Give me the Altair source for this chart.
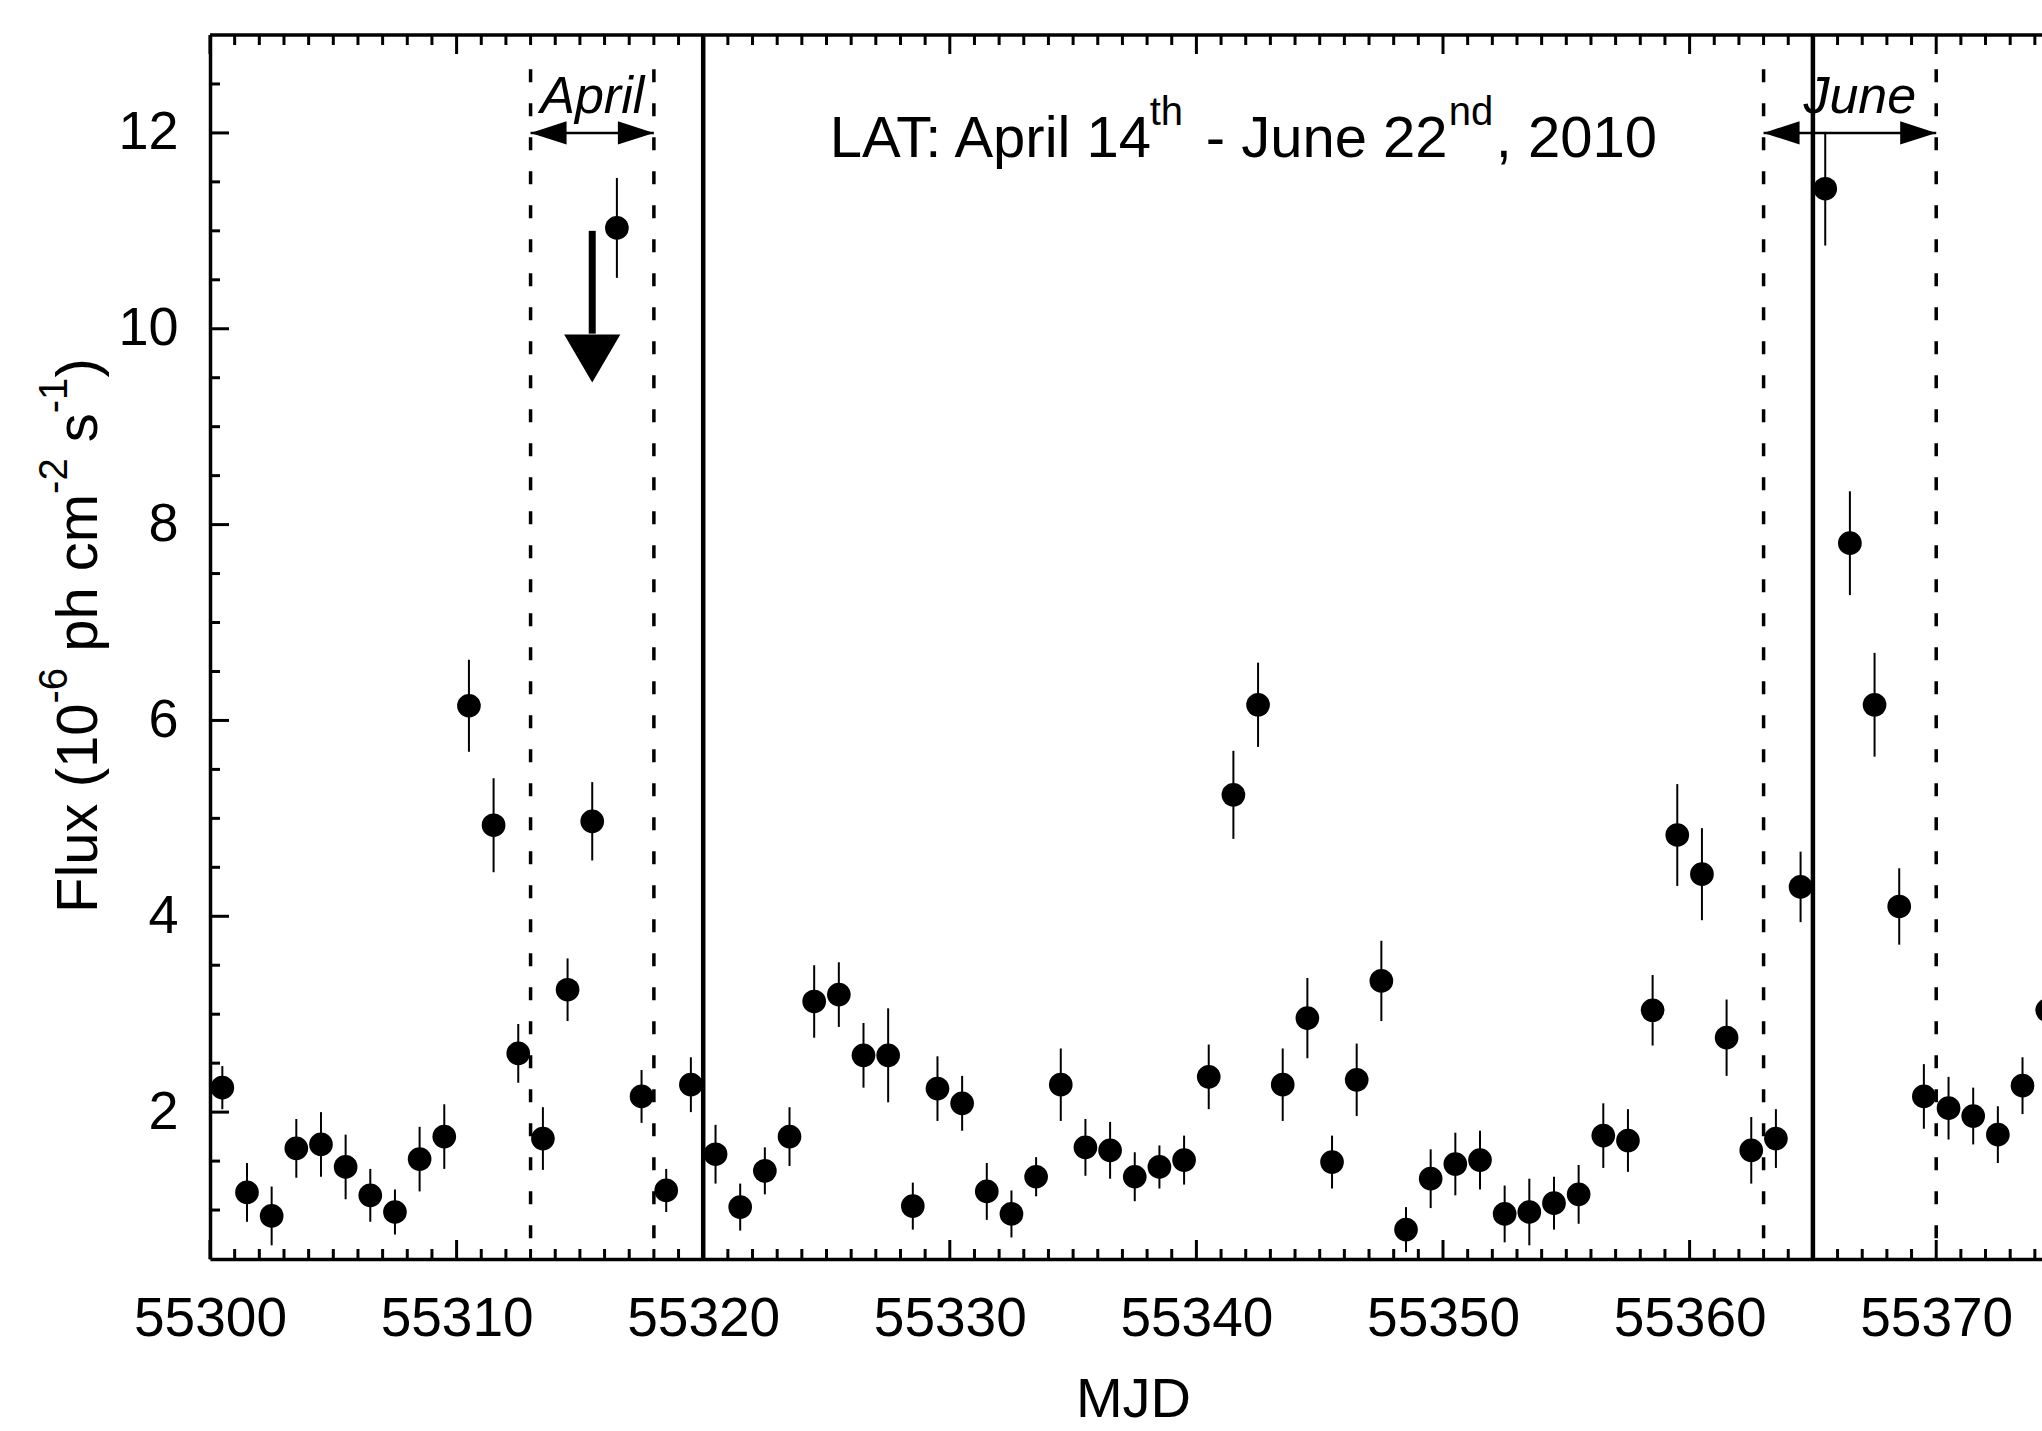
import altair as alt
import pandas as pd

FONT = "Liberation Sans"

# ---------------- data ----------------
mjd = [55300.5, 55301.5, 55302.5, 55303.5, 55304.5, 55305.5, 55306.5, 55307.5, 55308.5, 55309.5,
       55310.5, 55311.5, 55312.5, 55313.5, 55314.5, 55315.5, 55316.5, 55317.5, 55318.5, 55319.5,
       55320.5, 55321.5, 55322.5, 55323.5, 55324.5, 55325.5, 55326.5, 55327.5, 55328.5, 55329.5,
       55330.5, 55331.5, 55332.5, 55333.5, 55334.5, 55335.5, 55336.5, 55337.5, 55338.5, 55339.5,
       55340.5, 55341.5, 55342.5, 55343.5, 55344.5, 55345.5, 55346.5, 55347.5, 55348.5, 55349.5,
       55350.5, 55351.5, 55352.5, 55353.5, 55354.5, 55355.5, 55356.5, 55357.5, 55358.5, 55359.5,
       55360.5, 55361.5, 55362.5, 55363.5, 55364.5, 55365.5, 55366.5, 55367.5, 55368.5, 55369.5,
       55370.5, 55371.5, 55372.5, 55373.5, 55374.5]
flux = [2.25, 1.18, 0.94, 1.63, 1.67, 1.44, 1.15, 0.98, 1.52, 1.75,
        6.15, 4.93, 2.60, 1.73, 3.25, 4.97, 11.03, 2.16, 1.20, 2.28,
        1.57, 1.03, 1.40, 1.75, 3.13, 3.20, 2.58, 2.58, 1.04, 2.24,
        2.09, 1.19, 0.96, 1.34, 2.28, 1.64, 1.61, 1.34, 1.44, 1.51,
        2.36, 5.24, 6.16, 2.28, 2.96, 1.49, 2.33, 3.34, 0.80, 1.32,
        1.47, 1.51, 0.96, 0.98, 1.07, 1.16, 1.76, 1.71, 3.04, 4.83,
        4.43, 2.76, 1.61, 1.73, 4.30, 11.43, 7.81, 6.16, 4.10, 2.16,
        2.04, 1.96, 1.77, 2.27, 3.04]
flux_err = [0.22, 0.30, 0.30, 0.30, 0.33, 0.33, 0.27, 0.23, 0.33, 0.33,
            0.47, 0.48, 0.30, 0.32, 0.32, 0.40, 0.51, 0.27, 0.22, 0.28,
            0.30, 0.24, 0.24, 0.30, 0.37, 0.33, 0.33, 0.48, 0.24, 0.33,
            0.28, 0.29, 0.24, 0.20, 0.37, 0.29, 0.29, 0.25, 0.22, 0.25,
            0.33, 0.45, 0.43, 0.37, 0.41, 0.27, 0.37, 0.41, 0.23, 0.30,
            0.32, 0.30, 0.29, 0.34, 0.27, 0.30, 0.33, 0.32, 0.36, 0.52,
            0.47, 0.39, 0.34, 0.30, 0.36, 0.58, 0.53, 0.53, 0.39, 0.33,
            0.32, 0.29, 0.29, 0.29, 0.37]

# x tick labels / y tick labels
x_label_values = [55300, 55310, 55320, 55330, 55340, 55350, 55360, 55370]
y_label_values = [2, 4, 6, 8, 10, 12]

# vertical markers
solid_lines = [55320, 55365]
dashed_lines = [55313, 55318, 55363, 55370]
dashed_top = 12.65

# month windows (double arrows + italic labels)
months = ["April", "June"]
month_start = [55313, 55363]
month_end = [55318, 55370]
month_label_x = [55315.5, 55366.9]
month_arrow_y = 12.0
month_label_y = 12.2

# upper-limit style down arrow
down_x = 55315.5
down_top = 11.0
down_head_base = 9.95
down_tip = 9.45

# annotation "LAT: April 14th - June 22nd, 2010"
lat_x = 55342.0
lat_y = 11.75
lat_pieces = [("LAT: April 14", -416.0, 0, 58),
              ("th", -96.0, -32, 40),
              ("- June 22", -40.0, 0, 58),
              ("nd", 203.0, -32, 40),
              (", 2010", 250.0, 0, 58)]

# y-axis title pieces (rotated)
ytitle_pieces = [("Flux (10", 0.0, 0, 58),
                 ("-6", 209.5, -30, 40),
                 ("ph cm", 261.2, 0, 58),
                 ("-2", 419.1, -30, 40),
                 ("s", 470.8, 0, 58),
                 ("-1", 499.8, -30, 40),
                 (")", 535.4, 0, 58)]

# ---------------- layout ----------------
W, H = 1832, 1224
X0, X1 = 55300, 55374.29
Y0, Y1 = 0.5, 13.0

xscale = alt.Scale(domain=[X0, X1], nice=False, zero=False)
yscale = alt.Scale(domain=[Y0, Y1], nice=False, zero=False)

xaxis = alt.Axis(values=x_label_values, format="d", ticks=False, grid=False,
                 domain=True, domainColor="black", domainWidth=3.5,
                 labelFont=FONT, labelFontSize=55, labelColor="black",
                 labelPadding=33, labelOverlap=False, labelFlush=False,
                 title="MJD", titleFont=FONT, titleFontSize=56,
                 titleFontWeight="normal", titleColor="black",
                 titleY=157, titleX=923, titleBaseline="alphabetic")
yaxis = alt.Axis(values=y_label_values, format="d", ticks=False, grid=False,
                 domain=True, domainColor="black", domainWidth=3.5,
                 labelFont=FONT, labelFontSize=54, labelColor="black",
                 labelPadding=32, labelOverlap=False, labelFlush=False,
                 title=None)


def X(field):
    return alt.X(field, type="quantitative", scale=xscale, axis=xaxis)


def Y(field):
    return alt.Y(field, type="quantitative", scale=yscale, axis=yaxis)


df = pd.DataFrame({"x": mjd, "y": flux, "e": flux_err})
df["lo"] = df["y"] - df["e"]
df["hi"] = df["y"] + df["e"]

layers = []

# ---- tick marks (inward, gnuplot style) ----
minor_days = [d for d in range(55300, 55375) if d % 10 != 0]
major_days = [d for d in range(55300, 55375, 10)]
minor_y = [i / 2 for i in range(2, 26) if not (i % 4 == 0)]
major_y = y_label_values

df_mx = pd.DataFrame({"x": minor_days})
df_Mx = pd.DataFrame({"x": major_days})
df_my = pd.DataFrame({"y": minor_y})
df_My = pd.DataFrame({"y": major_y})

for dfx, ln in [(df_mx, 10), (df_Mx, 19)]:
    layers.append(alt.Chart(dfx).mark_rule(color="black", strokeWidth=3).encode(
        x=X("x"), y=alt.value(H), y2=alt.value(H - ln)))
    layers.append(alt.Chart(dfx).mark_rule(color="black", strokeWidth=3).encode(
        x=X("x"), y=alt.value(0), y2=alt.value(ln)))
for dfy, ln in [(df_my, 10), (df_My, 19)]:
    layers.append(alt.Chart(dfy).mark_rule(color="black", strokeWidth=3).encode(
        y=Y("y"), x=alt.value(0), x2=alt.value(ln)))

# top border
one = pd.DataFrame({"a": [0]})
layers.append(alt.Chart(one).mark_rule(color="black", strokeWidth=3.5).encode(
    x=alt.value(0), x2=alt.value(W), y=alt.value(0)))

# ---- vertical lines ----
df_solid = pd.DataFrame({"x": solid_lines, "y0": [Y0] * len(solid_lines), "y1": [Y1] * len(solid_lines)})
df_dash = pd.DataFrame({"x": dashed_lines, "y0": [Y0] * len(dashed_lines), "y1": [dashed_top] * len(dashed_lines)})
layers.append(alt.Chart(df_solid).mark_rule(color="black", strokeWidth=4.5).encode(
    x=X("x"), y=Y("y0"), y2="y1"))
layers.append(alt.Chart(df_dash).mark_rule(color="black", strokeWidth=3.5, strokeDash=[13, 21]).encode(
    x=X("x"), y=Y("y1"), y2="y0"))

# ---- data: error bars + points ----
layers.append(alt.Chart(df).mark_rule(color="black", strokeWidth=2, clip=True).encode(
    x=X("x"), y=Y("lo"), y2="hi"))
layers.append(alt.Chart(df).mark_point(filled=True, size=560, color="black", opacity=1, clip=True).encode(
    x=X("x"), y=Y("y")))

# ---- month double arrows ----
df_m = pd.DataFrame({"x0": month_start, "x1": month_end, "y": [month_arrow_y] * 2,
                     "lx": month_label_x, "ly": [month_label_y] * 2, "name": months})
layers.append(alt.Chart(df_m).mark_rule(color="black", strokeWidth=2.5).encode(
    x=X("x0"), x2="x1", y=Y("y")))
layers.append(alt.Chart(df_m).mark_point(shape="M0,0 L2,-0.65 L2,0.65 Z", filled=True, size=1296,
                                         color="black", opacity=1).encode(x=X("x0"), y=Y("y")))
layers.append(alt.Chart(df_m).mark_point(shape="M0,0 L-2,-0.65 L-2,0.65 Z", filled=True, size=1296,
                                         color="black", opacity=1).encode(x=X("x1"), y=Y("y")))
layers.append(alt.Chart(df_m).mark_text(font=FONT, fontSize=52, fontStyle="italic", align="center",
                                        baseline="alphabetic", color="black").encode(
    x=X("lx"), y=Y("ly"), text="name:N"))

# ---- big down arrow ----
df_d = pd.DataFrame({"x": [down_x], "y0": [down_top], "y1": [down_head_base], "yt": [down_tip]})
layers.append(alt.Chart(df_d).mark_rule(color="black", strokeWidth=7).encode(
    x=X("x"), y=Y("y0"), y2="y1"))
layers.append(alt.Chart(df_d).mark_point(shape="M0,0 L-1.17,-2 L1.17,-2 Z", filled=True, size=2304,
                                         color="black", opacity=1).encode(x=X("x"), y=Y("yt")))

# ---- LAT annotation ----
df_lat = pd.DataFrame({"x": [lat_x], "y": [lat_y]})
for txt, dx, dy, fs in lat_pieces:
    layers.append(alt.Chart(df_lat).mark_text(text=txt, font=FONT, fontSize=fs, align="left",
                                              baseline="alphabetic", dx=dx, dy=dy, color="black").encode(
        x=X("x"), y=Y("y")))

# ---- y-axis title (rotated, with superscripts) ----
for txt, dx, dy, fs in ytitle_pieces:
    layers.append(alt.Chart(one).mark_text(text=txt, font=FONT, fontSize=fs, align="left",
                                           baseline="alphabetic", angle=270, dx=dx, dy=dy,
                                           color="black").encode(
        x=alt.value(-113), y=alt.value(878)))

chart = alt.layer(*layers).properties(
    width=W, height=H,
    autosize=alt.AutoSizeParams(type="none"),
    padding={"left": 210, "top": 35, "right": 0, "bottom": 172},
    background="white",
).configure_view(stroke=None)

chart.save("out.html", embed_options={"renderer": "svg", "actions": False})
